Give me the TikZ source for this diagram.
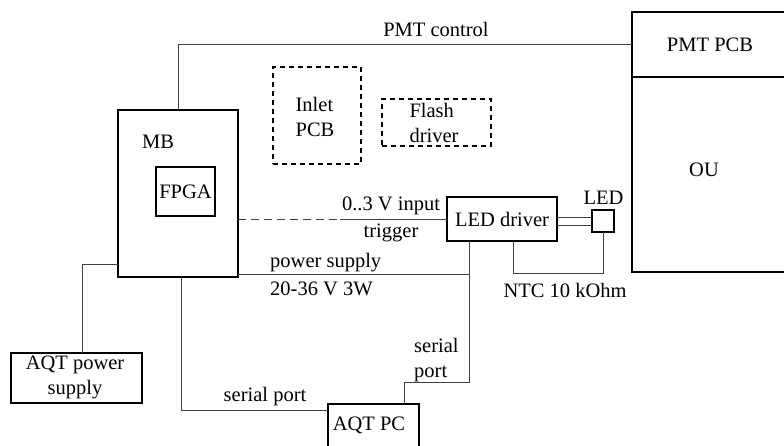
\documentclass[tikz,border=0pt]{standalone}
\usepackage{fontspec}
\setmainfont{Liberation Serif}
\begin{document}
\begin{tikzpicture}[x=1pt,y=-1pt,
  box/.style={draw=black,line width=1.3pt,inner sep=0pt,outer sep=0pt},
  dbox/.style={draw=black,line width=1.2pt,dash pattern=on 5pt off 4pt,inner sep=0pt,outer sep=0pt},
  conn/.style={draw=black!75,line width=0.9pt},
  lbl/.style={inner sep=0pt,font=\fontsize{20.5}{25}\selectfont,align=left},
  every node/.style={font=\fontsize{20.5}{25}\selectfont}]
\useasboundingbox (0,0) rectangle (784,445);
\clip (0,0) rectangle (784,445);
% boxes
\node[box,anchor=north west,minimum width=120pt,minimum height=167pt] (mb) at (118,110) {};
\node[lbl] (mbl) at (158,142) {MB};
\node[box,anchor=north west,minimum width=59pt,minimum height=49pt] (fpga) at (156,167) {};
\node[lbl] (fpgal) at (185.5,191.5) {FPGA};
\node[dbox,anchor=north west,minimum width=88pt,minimum height=97pt] (inlet) at (273,67) {};
\node[lbl] (inletl) at (315,117) {Inlet\\PCB};
\node[dbox,anchor=north west,minimum width=109pt,minimum height=47pt] (flash) at (382,99) {};
\node[lbl] (flashl) at (434,123) {Flash\\driver};
\node[box,anchor=north west,minimum width=158pt,minimum height=65pt] (pmt) at (632,12) {};
\node[lbl] (pmtl) at (710,45) {PMT PCB};
\node[box,anchor=north west,minimum width=158pt,minimum height=195pt] (ou) at (632,77) {};
\node[lbl] (oul) at (704,170) {OU};
\node[box,anchor=north west,minimum width=110pt,minimum height=44pt] (leddrv) at (447,197) {};
\node[lbl] (leddrvl) at (502,219) {LED driver};
\node[box,anchor=north west,minimum width=22pt,minimum height=22pt] (led) at (592,210) {};
\node[lbl] (ledl) at (603.5,198) {LED};
\node[box,anchor=north west,minimum width=91pt,minimum height=60pt] (aqtpc) at (328,404) {};
\node[lbl] (aqtpcl) at (369,425) {AQT PC};
\node[box,anchor=north west,minimum width=131pt,minimum height=50pt] (aps) at (11,353) {};
\node[lbl,align=center] (apsl) at (75,377) {AQT power\\supply};
% coordinates
\coordinate (tj) at (340,219);
\coordinate (pj) at (469,274);
\coordinate (sj) at (469,382);
\coordinate (sk) at (404,404);
\coordinate (sl) at (181,410);
\coordinate (pa) at (82,264);
\coordinate (nt) at (513,273);
% connectors
\draw[conn] (mb.north) |- (pmt.west);
\node[lbl] (pmtc) at (436,29) {PMT control};
\draw[conn,dash pattern=on 8pt off 5pt] (mb.east |- tj) -- (tj);
\draw[conn] (tj) -- (leddrv.west |- tj);
\node[lbl] (inl) at (391,206) {0..3 V input};
\node[lbl] (trg) at (391,233) {trigger};
\draw[conn] (mb.east |- pj) -- (pj);
\draw[conn] (leddrv.south -| pj) -- (sj) -| (sk);
\node[lbl,anchor=west] (psl) at (270,263) {power supply};
\node[lbl,anchor=west] (psv) at (270,289) {20-36 V 3W};
\node[lbl,anchor=north west] (spr) at (414,338) {serial\\port};
\draw[conn] (mb.south -| sl) -- (sl) -- (aqtpc.west |- sl);
\node[lbl] (spl) at (265,397) {serial port};
\draw[conn] (aps.north -| pa) -- (pa) -- (mb.west |- pa);
\draw[conn] ([yshift=4pt]led.west) -- ([yshift=4pt]led.west -| leddrv.east);
\draw[conn] ([yshift=-4pt]led.west) -- ([yshift=-4pt]led.west -| leddrv.east);
\draw[conn] (leddrv.south -| nt) -- (nt) -| (led.south);
\node[lbl] (ntc) at (565,290) {NTC 10 kOhm};
\end{tikzpicture}
\end{document}
